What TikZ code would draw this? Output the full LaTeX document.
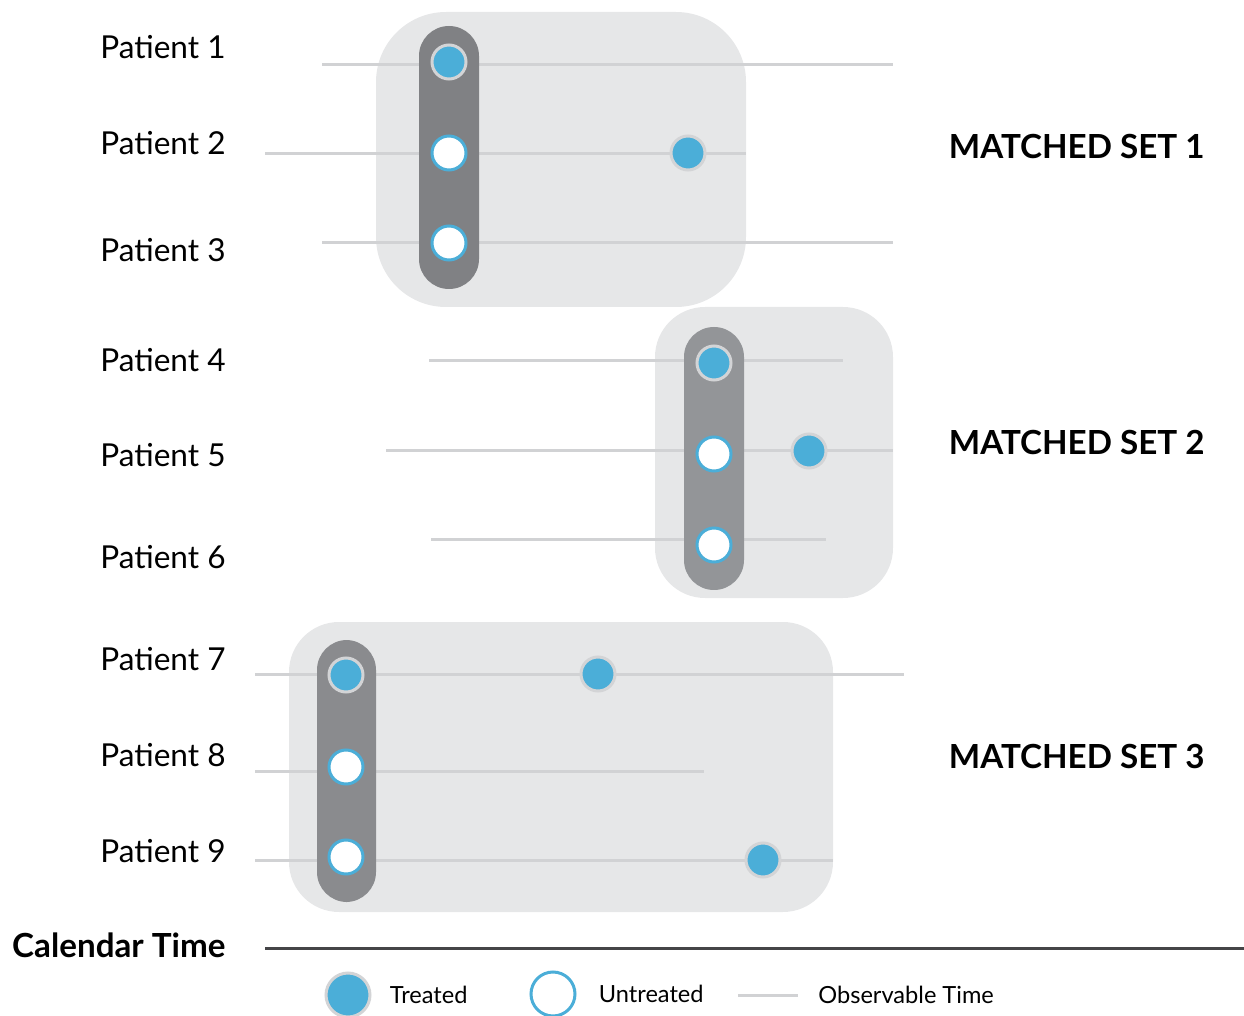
\documentclass[tikz,border=0pt]{standalone}
\usepackage{fontspec}
\setmainfont{Lato}
\usetikzlibrary{positioning}
\definecolor{trtblue}{HTML}{4BAED8}
\definecolor{setgray}{HTML}{E6E7E8}
\definecolor{pillgray}{HTML}{808184}
\definecolor{pillgraylt}{HTML}{939598}
\definecolor{obsgray}{HTML}{D1D2D4}
\definecolor{ringgray}{HTML}{D3D4D6}
\definecolor{axisgray}{HTML}{454547}
\tikzset{
  set box/.style  = {fill=setgray, rounded corners=#1},
  pill/.style     = {fill=#1, rounded corners=15pt},
  obs/.style      = {obsgray, line width=1.5pt},
  treated/.style  = {circle, fill=trtblue, draw=ringgray, line width=1.5pt,
                     minimum size=17pt, inner sep=0pt},
  untreated/.style= {circle, fill=white, draw=trtblue, line width=1.5pt,
                     minimum size=17pt, inner sep=0pt},
  patient/.style  = {font=\fontsize{15.8}{18}\selectfont, anchor=east, inner sep=0pt},
  set label/.style= {font=\fontsize{16.6}{19}\selectfont\bfseries, anchor=east, inner sep=0pt},
  legend/.style   = {font=\fontsize{11.8}{14}\selectfont, anchor=west, inner sep=0pt},
}

\begin{document}
\begin{tikzpicture}[x=0.5pt, y=-0.5pt]
\useasboundingbox (0,0) rectangle (1244,1016);

% =====================================================================
% Matched-set backgrounds
% =====================================================================
\fill[set box=35pt] (376,12)  rectangle (746,307);
\fill[set box=25pt] (655,307) rectangle (893,598);
\fill[set box=25pt] (289,622) rectangle (833,912);

% Patient labels
\foreach \i/\y in {1/47, 2/143, 3/250, 4/360, 5/455, 6/557, 7/659, 8/755, 9/851} {
  \node[patient] (p\i) at (226,\y) {Patient \i};
}

% Observable time per patient
\foreach \i/\y/\a/\b in {1/65/322/893, 2/154/265/746, 3/243/322/893,
                         4/361/429/843, 5/451/386/893, 6/540/431/826,
                         7/674/255/904, 8/771/255/704, 9/860/255/833} {
  \draw[obs] (\a,\y) -- (\b,\y);
}

% Matching pills
\fill[pill=pillgray]   (419,26)  rectangle (479,289);
\fill[pill=pillgraylt] (684,327) rectangle (744,590);
\fill[pill=pillgray!92!white] (317,640) rectangle (376,902);

% =====================================================================
% Treated / untreated points
% =====================================================================
\node[treated]   (t1)  at (449,62)  {};
\node[untreated] (u2)  at (449,153) {};
\node[untreated] (u3)  at (449,243) {};
\node[treated]   (t2)  at (688,153) {};

\node[treated]   (t4)  at (714,363) {};
\node[untreated] (u5)  at (714,454) {};
\node[untreated] (u6)  at (714,545) {};
\node[treated]   (t5)  at (809,451) {};

\node[treated]   (t7)  at (346,675) {};
\node[untreated] (u8)  at (346,767) {};
\node[untreated] (u9)  at (346,857) {};
\node[treated]   (t7b) at (598,674) {};
\node[treated]   (t9)  at (763,860) {};

% Set labels
\node[set label] (s1) at (1205,147) {MATCHED SET 1};
\node[set label] (s2) at (1205,442) {MATCHED SET 2};
\node[set label] (s3) at (1205,756) {MATCHED SET 3};

% Calendar axis
\node[set label] (cal) at (226,945) {Calendar Time};
\coordinate (ax0) at (265,948);
\coordinate (ax1) at (1244,948);
\draw[axisgray, line width=1.5pt] (ax0) -- (ax1);

% Legend
\node[treated, minimum size=22pt] (lt) at (348,995) {};
\node[legend, right=9pt of lt] (ltt) {Treated};
\node[untreated, minimum size=22pt] (lu) at (553,994) {};
\node[legend, right=11pt of lu] (lut) {Untreated};
\coordinate (lo0) at (738,995);
\coordinate (lo1) at (798,995);
\draw[obs] (lo0) -- (lo1);
\node[legend, right=10pt of lo1] (lot) {Observable Time};
\end{tikzpicture}
\end{document}
